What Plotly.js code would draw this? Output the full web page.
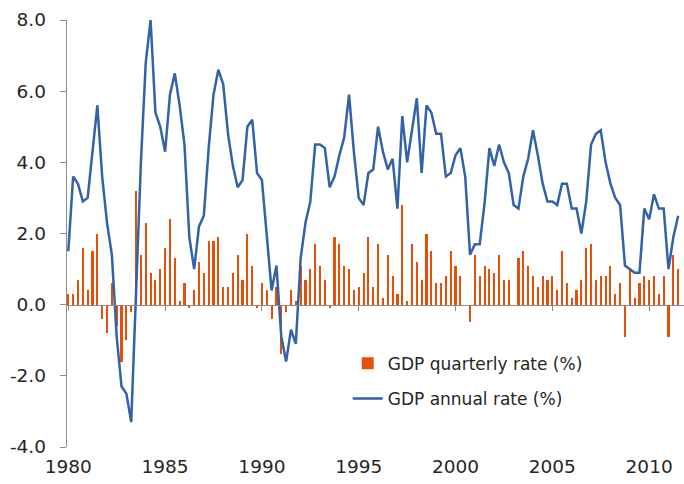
<!DOCTYPE html>
<html>
<head>
<meta charset="utf-8">
<script src="https://cdn.plot.ly/plotly-3.0.1.min.js"></script>
<style>
html,body{margin:0;padding:0;background:#fff;}
#chart{width:684px;height:484px;}
</style>
</head>
<body>
<div id="chart"></div>
<script>
// Period definition: quarterly data, 1980 Q1 .. 2011 Q3
var startYear = 1980;
var quarterLabels = [];
// GDP quarterly rate (%)
var gdpQuarterly = [
  0.3,0.3,0.7,1.6, 0.4,1.5,2.0,-0.4,
  -0.8,0.6,-0.6,-1.6, -1.0,-0.2,3.2,1.4,
  2.3,0.9,0.7,1.0, 1.6,2.4,1.3,0.1,
  0.6,-0.1,0.4,1.2, 0.9,1.8,1.8,1.9,
  0.5,0.5,0.9,1.4, 0.7,2.0,1.1,-0.1,
  0.6,0.4,-0.4,0.5, -1.4,-0.2,0.4,0.1,
  1.1,0.7,1.0,1.7, 1.1,0.7,-0.1,1.9,
  1.7,1.1,1.0,0.4, 0.5,0.9,1.9,0.5,
  1.7,0.2,1.4,0.8, 0.3,2.8,0.1,1.7,
  1.2,0.7,2.0,1.5, 0.6,0.6,0.8,1.5,
  1.1,0.8,0.0,-0.5, 1.4,0.8,1.1,1.0,
  0.9,1.4,0.7,0.7, 0.0,1.3,1.5,1.1,
  0.8,0.5,0.8,0.7, 0.8,0.4,1.5,0.6,
  0.2,0.4,0.7,1.6, 1.7,0.7,0.8,0.8,
  1.1,0.3,0.6,-0.9, 1.0,0.2,0.6,0.8,
  0.7,0.8,0.3,0.8, -0.9,1.4,1.0
];
// GDP annual rate (%)
var gdpAnnual = [
  1.5,3.6,3.4,2.9, 3.0,4.3,5.6,3.6,
  2.3,1.4,-0.9,-2.3, -2.5,-3.3,0.3,4.0,
  6.8,8.0,5.4,5.0, 4.3,5.9,6.5,5.6,
  4.5,1.9,1.0,2.2, 2.5,4.4,5.9,6.6,
  6.2,4.8,3.9,3.3, 3.5,5.0,5.2,3.7,
  3.5,1.9,0.4,1.1, -0.9,-1.6,-0.7,-1.1,
  1.3,2.3,2.9,4.5, 4.5,4.4,3.3,3.6,
  4.2,4.7,5.9,4.3, 3.0,2.8,3.7,3.8,
  5.0,4.3,3.8,4.1, 2.7,5.3,4.0,4.9,
  5.8,3.7,5.6,5.4, 4.8,4.8,3.6,3.7,
  4.2,4.4,3.6,1.4, 1.7,1.7,2.85,4.4,
  3.9,4.5,4.0,3.7, 2.8,2.7,3.6,4.1,
  4.9,4.2,3.4,2.9, 2.9,2.8,3.4,3.4,
  2.7,2.7,2.0,2.9, 4.5,4.8,4.9,4.0,
  3.4,3.0,2.8,1.1, 1.0,0.9,0.9,2.7,
  2.4,3.1,2.7,2.7, 1.0,1.9,2.5
];
var yearTicks = [1980,1985,1990,1995,2000,2005,2010];
var yearTickText = ["1980","1985","1990","1995","2000","2005","2010"];
var yTicks = [-4,-2,0,2,4,6,8];
var yTickText = ["-4.0","-2.0","0.0","2.0","4.0","6.0","8.0"];
var seriesNames = ["GDP quarterly rate (%)","GDP annual rate (%)"];
var chartTitle = "GDP growth (%)";

var xPos = [];
for (var i = 0; i < gdpQuarterly.length; i++) {
  var yr = startYear + Math.floor(i/4);
  quarterLabels.push(yr + " Q" + (i%4+1));
  xPos.push(yr + (i%4)/4);
}

var font = "DejaVu Sans, Verdana, sans-serif";
var xr = [1979.933, 2011.80];
var traces = [
  {type:'bar', x:xPos, y:gdpQuarterly, name:seriesNames[0], width:0.11,
   marker:{color:'#E4500A', line:{width:0}}, hovertext:quarterLabels, hoverinfo:'text+y',
   textposition:'none', legendgroup:'a', xaxis:'x', yaxis:'y'},
  {type:'scatter', mode:'lines', x:xPos, y:gdpAnnual, name:seriesNames[1],
   line:{color:'#3262A8', width:2.5}, hovertext:quarterLabels, hoverinfo:'text+y',
   legendgroup:'b', xaxis:'x2', yaxis:'y'}
];
var layout = {
  width:684, height:484,
  margin:{l:67, r:0, t:20, b:37, pad:0},
  paper_bgcolor:'#fff', plot_bgcolor:'#fff',
  font:{family:font, color:'#262626', size:18},
  annotations:[{text:'<b>'+chartTitle+'</b>', font:{family:font, size:25, color:'#000'},
         xref:'paper', yref:'paper', x:(302-67)/617, y:1, xanchor:'right', yanchor:'middle',
         yshift:34, showarrow:false}],
  showlegend:true,
  legend:{x:0.455, y:0.237, xanchor:'left', yanchor:'top', bgcolor:'rgba(0,0,0,0)',
          font:{family:font, size:17, color:'#262626'}, traceorder:'grouped',
          tracegroupgap:10, itemwidth:30},
  bargap:0,
  xaxis:{range:xr, tickmode:'array', tickvals:yearTicks, ticktext:yearTickText,
         ticks:'', showline:false, showgrid:false, zeroline:false,
         tickfont:{size:18.5, color:'#262626'}, ticklabelstandoff:6, fixedrange:true},
  xaxis2:{range:xr, overlaying:'x', anchor:'free', position:1/3, side:'bottom',
          tickmode:'array', tickvals:yearTicks, ticks:'outside', ticklen:5,
          tickcolor:'#8c8c8c', showline:true, linecolor:'#8c8c8c', linewidth:1.3,
          showticklabels:false, showgrid:false, zeroline:false, fixedrange:true},
  yaxis:{range:[-4,8], tickmode:'array', tickvals:yTicks, ticktext:yTickText,
         ticks:'outside', ticklen:6, tickcolor:'#8c8c8c', showline:true,
         linecolor:'#8c8c8c', linewidth:1.3, showgrid:false, zeroline:false,
         tickfont:{size:18.5, color:'#262626'}, ticklabelstandoff:10, fixedrange:true}
};
Plotly.newPlot('chart', traces, layout, {staticPlot:true, displayModeBar:false});
</script>
</body>
</html>
